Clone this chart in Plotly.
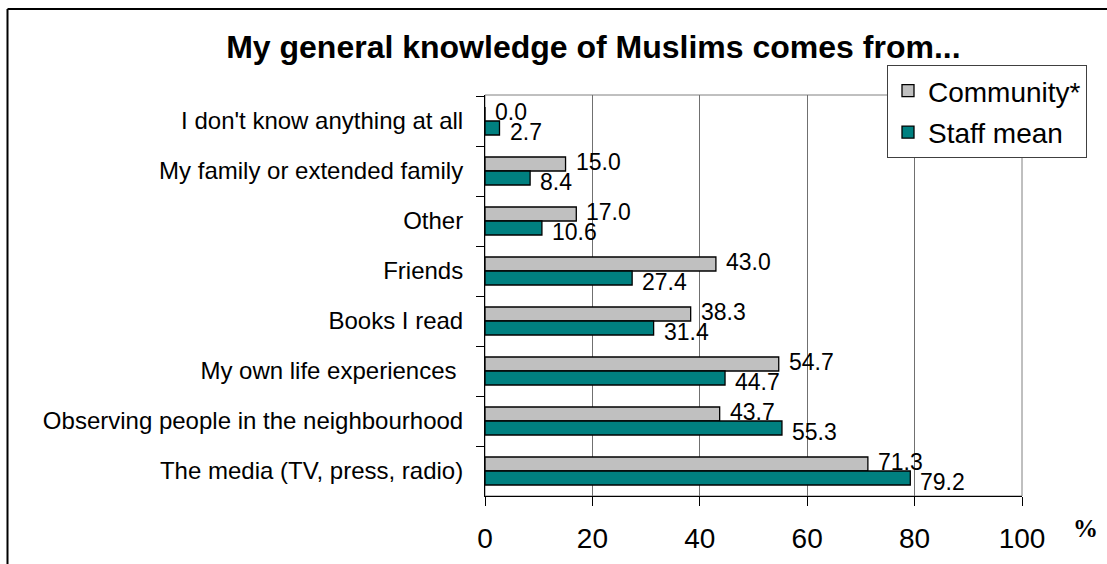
import plotly.graph_objects as go

categories = [
    "I don't know anything at all",
    "My family or extended family",
    "Other",
    "Friends",
    "Books I read",
    "My own life experiences ",
    "Observing people in the neighbourhood",
    "The media (TV, press, radio)",
]
community = [0.0, 15.0, 17.0, 43.0, 38.3, 54.7, 43.7, 71.3]
staff = [2.7, 8.4, 10.6, 27.4, 31.4, 44.7, 55.3, 79.2]
x_ticks = [0, 20, 40, 60, 80, 100]
title_text = "My general knowledge of Muslims comes from..."

FONT = "Liberation Sans, Arial, sans-serif"

fig = go.Figure()
fig.add_trace(go.Bar(
    y=categories, x=community, orientation="h", name="Community*",
    marker=dict(color="#C0C0C0", line=dict(color="black", width=1.3)),
    legendgroup="c",
))
fig.add_trace(go.Bar(
    y=categories, x=staff, orientation="h", name="Staff mean",
    marker=dict(color="#008080", line=dict(color="black", width=1.3)),
    legendgroup="s",
))

annotations = []
for cat, v in zip(categories, community):
    annotations.append(dict(x=v, y=cat, xref="x", yref="y", text=f"{v:.1f}",
                            showarrow=False, xanchor="left", yanchor="middle",
                            xshift=8, yshift=9,
                            font=dict(family=FONT, size=23, color="black")))
for cat, v in zip(categories, staff):
    annotations.append(dict(x=v, y=cat, xref="x", yref="y", text=f"{v:.1f}",
                            showarrow=False, xanchor="left", yanchor="middle",
                            xshift=8, yshift=-11,
                            font=dict(family=FONT, size=23, color="black")))
annotations.append(dict(x=1.119, y=-0.08, xref="paper", yref="paper", text="<b>%</b>",
                        showarrow=False, xanchor="center", yanchor="middle",
                        font=dict(family="Liberation Serif, Times New Roman, serif", size=25, color="black")))

shapes = [
    dict(type="rect", xref="paper", yref="paper", x0=0, y0=0, x1=1, y1=1,
         line=dict(color="#808080", width=1), layer="below"),
    dict(type="line", xref="paper", yref="paper", x0=-0.8892, y0=1.2145, x1=1.17, y1=1.2145,
         line=dict(color="black", width=2)),
    dict(type="line", xref="paper", yref="paper", x0=-0.8892, y0=1.2145, x1=-0.8892, y1=-0.2,
         line=dict(color="black", width=2)),
]

fig.update_layout(
    width=1107, height=564,
    margin=dict(l=485, r=85, t=95, b=68, autoexpand=False),
    paper_bgcolor="white", plot_bgcolor="white",
    barmode="group", bargap=0.44, bargroupgap=0,
    title=dict(text=f"<b>{title_text}</b>", x=0.536, xref="container", xanchor="center",
               y=1 - 47 / 564, yref="container", yanchor="middle",
               font=dict(family=FONT, size=32, color="black")),
    legend=dict(x=0.7486, y=1.0748, xanchor="left", yanchor="top",
                bgcolor="white", bordercolor="#404040", borderwidth=1,
                font=dict(family=FONT, size=28, color="black"),
                traceorder="grouped", tracegroupgap=2, itemwidth=30),
    xaxis=dict(range=[0, 100], tickvals=x_ticks, ticktext=[str(t) for t in x_ticks],
               showgrid=True, gridcolor="#707070", gridwidth=1,
               showline=True, linecolor="black", linewidth=1,
               ticks="outside", ticklen=9, tickcolor="black",
               ticklabelstandoff=8, zeroline=False,
               tickfont=dict(family=FONT, size=28, color="black"), fixedrange=True),
    yaxis=dict(autorange="reversed", type="category",
               showline=True, linecolor="black", linewidth=1,
               ticks="outside", ticklen=8, tickcolor="black", tickson="boundaries",
               ticklabelstandoff=16, showgrid=False,
               tickfont=dict(family=FONT, size=24, color="black"), fixedrange=True),
    annotations=annotations,
    shapes=shapes,
    showlegend=True,
)

fig.write_html("out.html", config={"displayModeBar": False},
               post_script="document.body.style.margin='0';")
